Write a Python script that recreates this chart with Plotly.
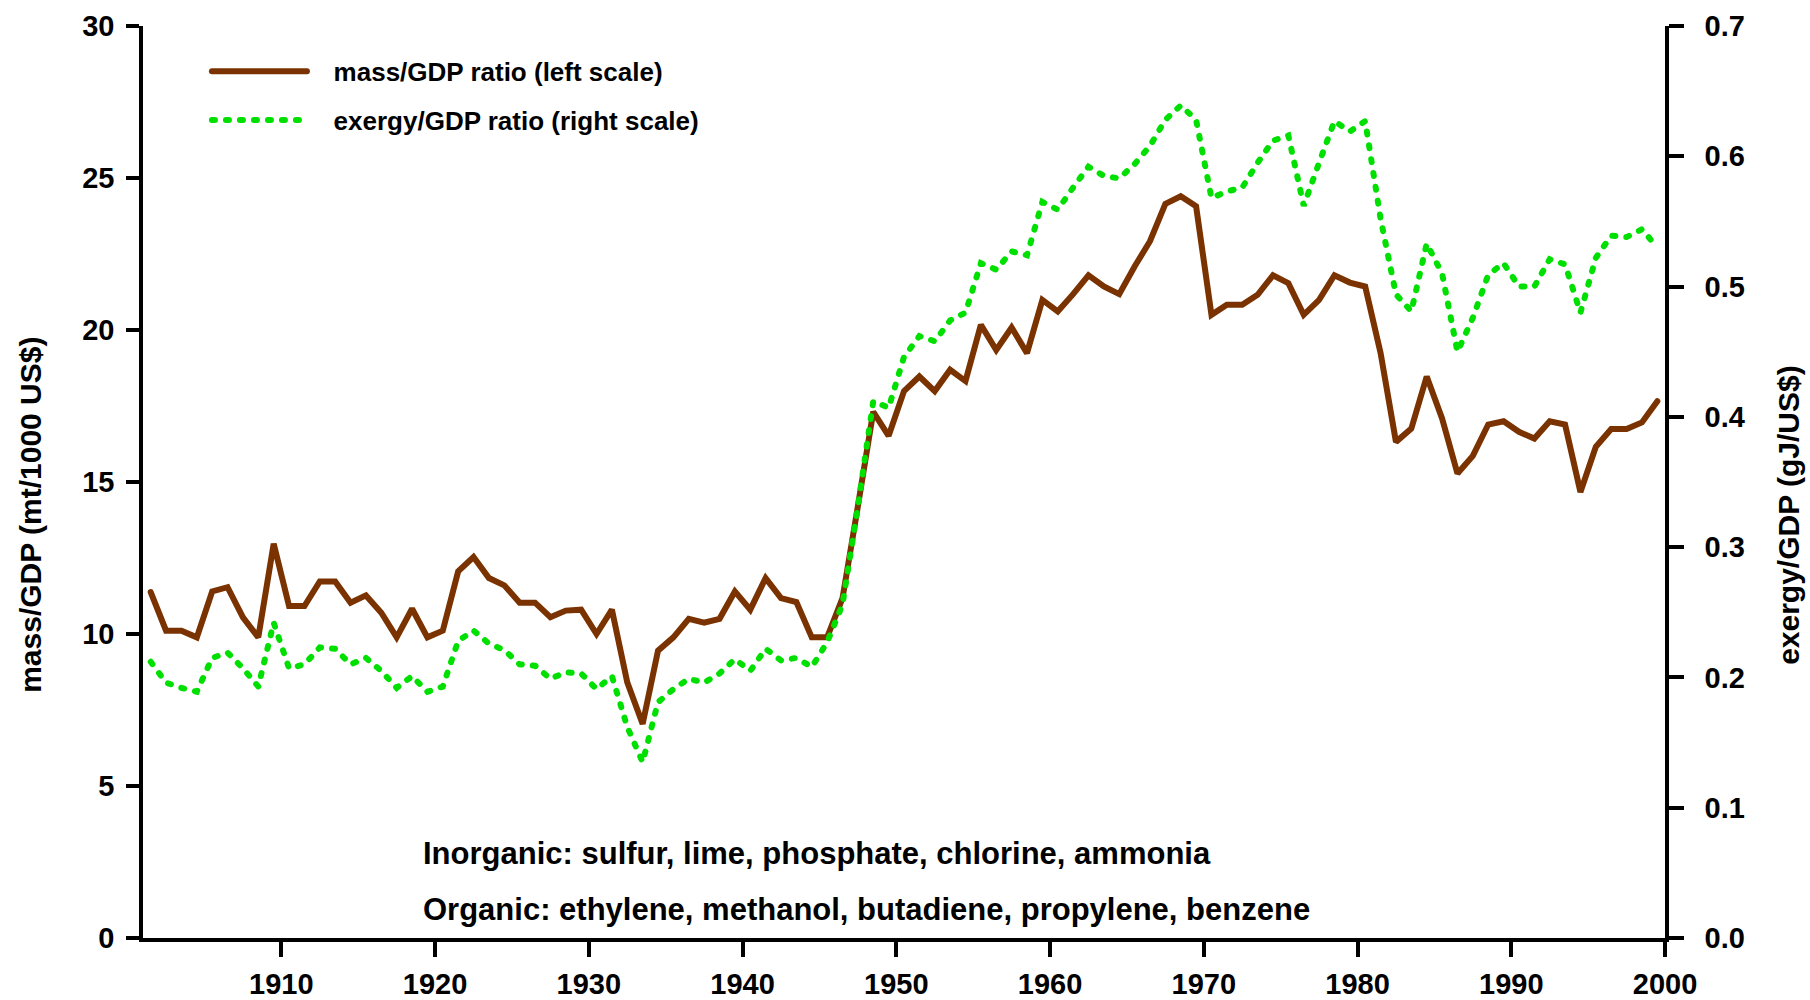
import plotly.graph_objects as go

# ---------------- data ----------------
years = list(range(1901, 2000))

# mass/GDP ratio, mt per 1000 US$ (left scale)
mass_gdp = [
    11.38, 10.11, 10.11, 9.89, 11.40, 11.54, 10.55, 9.89, 12.97, 10.92,   # 1901-1910
    10.92, 11.73, 11.73, 11.03, 11.27, 10.70, 9.89, 10.83, 9.89, 10.11,   # 1911-1920
    12.06, 12.53, 11.84, 11.60, 11.03, 11.03, 10.55, 10.77, 10.80, 10.00, # 1921-1930
    10.80, 8.41, 7.04, 9.45, 9.89, 10.50, 10.37, 10.50, 11.40, 10.80,     # 1931-1940
    11.84, 11.18, 11.05, 9.89, 9.89, 11.18, 14.20, 17.31, 16.52, 17.99,   # 1941-1950
    18.47, 17.99, 18.69, 18.32, 20.17, 19.34, 20.08, 19.24, 20.99, 20.61, # 1951-1960
    21.18, 21.80, 21.43, 21.18, 22.09, 22.92, 24.15, 24.40, 24.07, 20.50, # 1961-1970
    20.83, 20.83, 21.16, 21.80, 21.54, 20.50, 20.99, 21.80, 21.56, 21.43, # 1971-1980
    19.24, 16.32, 16.76, 18.47, 17.09, 15.28, 15.86, 16.89, 17.00, 16.65, # 1981-1990
    16.43, 17.00, 16.89, 14.67, 16.16, 16.74, 16.74, 16.96, 17.66,        # 1991-1999
]

# exergy/GDP ratio, gJ per US$ (right scale)
exergy_gdp = [
    0.212, 0.196, 0.192, 0.189, 0.215, 0.219, 0.207, 0.193, 0.242, 0.207, # 1901-1910
    0.210, 0.223, 0.222, 0.210, 0.215, 0.205, 0.192, 0.201, 0.189, 0.193, # 1911-1920
    0.228, 0.236, 0.226, 0.221, 0.210, 0.209, 0.199, 0.204, 0.203, 0.191, # 1921-1930
    0.201, 0.162, 0.135, 0.181, 0.191, 0.199, 0.196, 0.203, 0.214, 0.205, # 1931-1940
    0.222, 0.213, 0.215, 0.208, 0.227, 0.256, 0.331, 0.412, 0.407, 0.446, # 1941-1950
    0.462, 0.458, 0.474, 0.480, 0.518, 0.513, 0.527, 0.524, 0.565, 0.559, # 1951-1960
    0.576, 0.592, 0.585, 0.583, 0.594, 0.608, 0.628, 0.639, 0.628, 0.568, # 1961-1970
    0.573, 0.576, 0.595, 0.612, 0.616, 0.562, 0.595, 0.627, 0.619, 0.627, # 1971-1980
    0.552, 0.494, 0.481, 0.533, 0.510, 0.450, 0.476, 0.509, 0.518, 0.500, # 1981-1990
    0.500, 0.521, 0.517, 0.480, 0.522, 0.539, 0.538, 0.544, 0.530,        # 1991-1999
]

x_tick_labels = [1910, 1920, 1930, 1940, 1950, 1960, 1970, 1980, 1990, 2000]
left_tick_labels = [0, 5, 10, 15, 20, 25, 30]
right_tick_labels = [0.0, 0.1, 0.2, 0.3, 0.4, 0.5, 0.6, 0.7]

series_names = ["mass/GDP ratio (left scale)", "exergy/GDP ratio (right scale)"]
left_title = "mass/GDP (mt/1000 US$)"
right_title = "exergy/GDP (gJ/US$)"
notes = [
    "Inorganic: sulfur, lime, phosphate, chlorine, ammonia",
    "Organic: ethylene, methanol, butadiene, propylene, benzene",
]

# annual values plotted at mid-year
x_mid = [y + 0.5 for y in years]

# ---------------- styling ----------------
FONT = "Liberation Sans, Arial, Helvetica, sans-serif"
BROWN = "#7a3300"
GREEN = "#00e000"
AX_W = 3.5
PAD = "\u00a0\u00a0\u00a0"  # gap between legend line and legend text

fig = go.Figure()
fig.add_trace(go.Scatter(
    x=x_mid, y=mass_gdp, name=PAD + series_names[0], mode="lines",
    line=dict(color=BROWN, width=6), yaxis="y", legendgroup="a",
))
fig.add_trace(go.Scatter(
    x=x_mid, y=exergy_gdp, name=PAD + series_names[1], mode="lines",
    line=dict(color=GREEN, width=6, dash="3px,11px"), yaxis="y2", legendgroup="b",
))

tickfont = dict(family=FONT, size=29, color="black", weight="bold")
titlefont = dict(family=FONT, size=30, color="black", weight="bold")

fig.update_layout(
    template="none",
    width=1810, height=1000,
    margin=dict(l=143, r=145, t=26, b=62, autoexpand=False),
    paper_bgcolor="white", plot_bgcolor="white",
    showlegend=True,
    legend=dict(
        x=0.042, y=0.976, xanchor="left", yanchor="top",
        font=dict(family=FONT, size=26, color="black", weight="bold"),
        bgcolor="rgba(0,0,0,0)", traceorder="grouped", tracegroupgap=12,
        itemwidth=95,
    ),
    xaxis=dict(
        range=[1901, 2000], tickvals=x_tick_labels, ticks="outside",
        ticklen=15, tickwidth=AX_W, tickcolor="black",
        showline=True, linewidth=AX_W, linecolor="black",
        showgrid=False, zeroline=False, tickfont=tickfont,
        ticklabelstandoff=2, automargin=False,
    ),
    yaxis=dict(
        range=[0, 30], tickvals=left_tick_labels, ticks="outside",
        ticklen=13, tickwidth=AX_W, tickcolor="black",
        showline=True, linewidth=AX_W, linecolor="black",
        showgrid=False, zeroline=False, tickfont=tickfont,
        ticklabelstandoff=6, automargin=False,
    ),
    yaxis2=dict(
        range=[0, 0.7], tickvals=right_tick_labels, tickformat=".1f",
        overlaying="y", side="right", anchor="x", ticks="outside",
        ticklen=15, tickwidth=AX_W, tickcolor="black",
        showline=True, linewidth=AX_W, linecolor="black",
        showgrid=False, zeroline=False, tickfont=tickfont,
        ticklabelstandoff=15, automargin=False,
    ),
    yaxis3=dict(
        range=[0, 30], tickvals=left_tick_labels, overlaying="y", side="left",
        anchor="x", ticks="inside", ticklen=12, tickwidth=AX_W, tickcolor="black",
        showticklabels=False, showline=False, showgrid=False, zeroline=False,
        automargin=False,
    ),
)

# axis titles (placed like the reference, slightly below the axis centre)
fig.add_annotation(
    text=left_title, xref="paper", yref="paper", x=-0.0736, y=0.464,
    xanchor="center", yanchor="middle", textangle=-90, showarrow=False,
    font=titlefont,
)
fig.add_annotation(
    text=right_title, xref="paper", yref="paper", x=1.0815, y=0.464,
    xanchor="center", yanchor="middle", textangle=-90, showarrow=False,
    font=titlefont,
)

for i, note in enumerate(notes):
    fig.add_annotation(
        text=note, xref="paper", yref="paper", x=0.1827, y=[0.0926, 0.0312][i],
        xanchor="left", yanchor="middle", showarrow=False,
        font=dict(family=FONT, size=31, color="black", weight="bold"),
    )

post = (
    "document.body.style.margin='0';"
    "document.querySelectorAll('.scatterlayer .js-line, .legend .js-line')"
    ".forEach(function(p){p.style.strokeLinecap='round';});"
)
fig.write_html("out.html", post_script=post, config={"displayModeBar": False})
